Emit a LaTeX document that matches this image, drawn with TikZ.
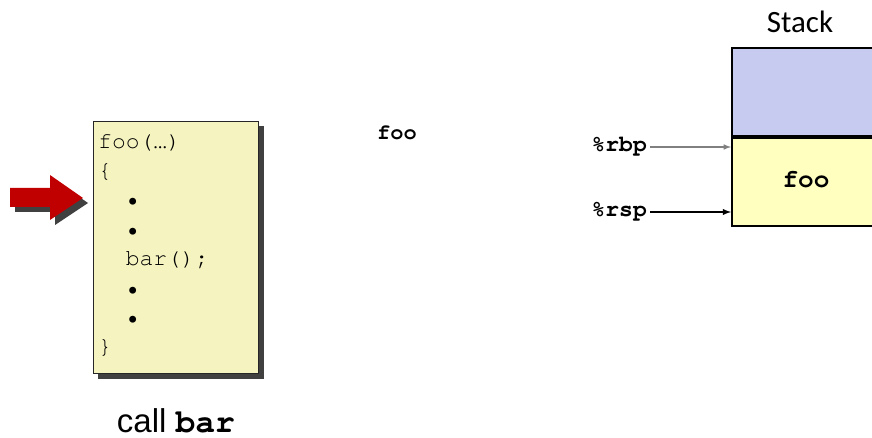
\documentclass[tikz,border=0pt]{standalone}
\usepackage{fontspec}
\setmainfont{Liberation Sans}
\setmonofont{texgyrecursor}[Extension=.otf, UprightFont=*-regular, BoldFont=*-bold]
\newfontfamily\calib{Carlito}
\usetikzlibrary{positioning}

\definecolor{codefill}{HTML}{F5F3C0}
\definecolor{framefill}{HTML}{C8CBF0}
\definecolor{foofill}{HTML}{FFFFC0}
\definecolor{shadowgray}{HTML}{404040}
\definecolor{pcred}{HTML}{C00000}

\tikzset{
  codebox/.style={draw=black!85, line width=1.3pt, fill=codefill, inner sep=0pt},
  stackbox/.style={draw=black, line width=1.8pt, inner sep=0pt, minimum width=170pt},
  reg/.style={font=\fontsize{23}{26}\selectfont\ttfamily\bfseries, inner sep=0pt, anchor=east},
}

\begin{document}
\begin{tikzpicture}[x=1pt,y=-1pt]
  \clip (0,0) rectangle (872,438);

  % code of foo
  \fill[shadowgray] (98,126) rectangle (264,379);
  \node[codebox, minimum width=165pt, minimum height=252pt, anchor=north west] (code) at (93,121) {};
  \node[anchor=north west, align=left, inner sep=0pt,
        font=\fontsize{23}{29.4}\selectfont\ttfamily] (src) at (98,134) {%
    foo(…)\\
    \{\\
    \hphantom{aa}•\\
    \hphantom{aa}•\\
    \hphantom{aa}bar();\\
    \hphantom{aa}•\\
    \hphantom{aa}•\\
    \}};

  % pointer
  \foreach \dx/\col in {5/shadowgray, 0/pcred} {
    \fill[\col, xshift=\dx pt, yshift=-\dx pt]
      (10,188) -- (50,188) -- (50,175) -- (83,198) -- (50,220) -- (50,207) -- (10,207) -- cycle;
  }

  \node[font=\fontsize{33}{36}\selectfont, anchor=base, inner sep=0pt] (call) at (176,432) {call \texttt{\bfseries bar}};
  \node[font=\fontsize{22}{26}\selectfont\ttfamily\bfseries] (fname) at (397,133) {foo};

  % stack
  \node[stackbox, fill=framefill, minimum height=88pt, anchor=north west] (caller) at (731,47) {};
  \node[stackbox, fill=foofill, minimum height=88pt, below=0pt of caller] (foobox) {};
  \node[font=\fontsize{26}{26}\selectfont\ttfamily\bfseries] (fooname) at (806,180) {foo};
  \node[font=\fontsize{31}{32}\selectfont\calib] (stk) at (800,22) {Stack};

  \node[reg] (rbp) at (647,147) {\%rbp};
  \node[reg] (rsp) at (647,212) {\%rsp};
  \draw[-latex, black!50, line width=1.5pt] ([xshift=3pt]rbp.east) -- (rbp -| foobox.west);
  \draw[-latex, black, line width=1.8pt] ([xshift=3pt]rsp.east) -- (rsp -| foobox.west);
\end{tikzpicture}
\end{document}
